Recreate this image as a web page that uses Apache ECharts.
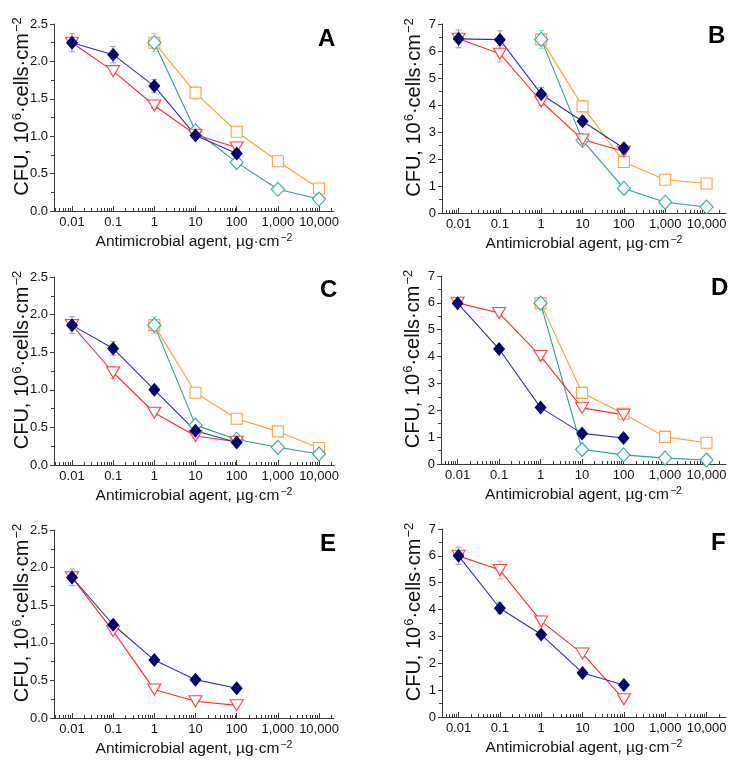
<!DOCTYPE html>
<html><head><meta charset="utf-8">
<script src="https://cdn.jsdelivr.net/npm/echarts@6/dist/echarts.min.js"></script>
<style>html,body{margin:0;padding:0;background:#fff}#c{width:756px;height:768px}</style>
</head><body><div id="c"></div>
<script>
// ---------- data ----------
const xTickValues = [0.01, 0.1, 1, 10, 100, 1000, 10000];
const xTickLabels = ['0.01', '0.1', '1', '10', '100', '1,000', '10,000'];
const lowDoses = [0.01, 0.1, 1, 10, 100];
const highDoses = [1, 10, 100, 1000, 10000];
const panelLetters = ['A', 'B', 'C', 'D', 'E', 'F'];
const yMaxes = [2.5, 7, 2.5, 7, 2.5, 7];
const yIntervals = [0.5, 1, 0.5, 1, 0.5, 1];

// navy filled diamonds (low doses)
const navyA = [2.25, 2.09, 1.67, 1.01, 0.77];
const navyB = [6.45, 6.42, 4.40, 3.40, 2.40];
const navyC = [1.86, 1.55, 1.00, 0.455, 0.30];
const navyD = [5.99, 4.28, 2.10, 1.14, 0.97];
const navyE = [1.87, 1.24, 0.77, 0.51, 0.395];
const navyF = [6.00, 4.05, 3.07, 1.64, 1.19];
const navyErrA = [0.12, 0.11, 0.09, 0.04, 0.05];
const navyErrB = [0.33, 0.33, 0.25, 0.15, 0.10];
const navyErrC = [0.11, 0.09, 0.05, 0.03, 0.03];
const navyErrD = [0.12, 0.10, 0.10, 0.08, 0.06];
const navyErrE = [0.11, 0.06, 0.03, 0.02, 0.02];
const navyErrF = [0.32, 0.20, 0.12, 0.10, 0.10];

// red open down-triangles (low doses)
const redA = [2.25, 1.87, 1.41, 1.02, 0.85];
const redB = [6.45, 5.90, 4.13, 2.72, 2.28];
const redC = [1.86, 1.23, 0.695, 0.385, 0.31];
const redD = [6.00, 5.62, 4.02, 2.09, 1.83];
const redE = [1.87, 1.155, 0.378, 0.222, 0.168];
const redF = [6.00, 5.47, 3.56, 2.36, 0.66];
const redErrA = [0.05, 0.04, 0.04, 0.03, 0.03];
const redErrB = [0.10, 0.30, 0.15, 0.10, 0.10];
const redErrC = [0.04, 0.08, 0.04, 0.03, 0.02];
const redErrD = [0.10, 0.12, 0.15, 0.12, 0.12];
const redErrE = [0.03, 0.04, 0.02, 0.02, 0.02];
const redErrF = [0.10, 0.33, 0.20, 0.12, 0.10];

// teal open diamonds (high doses)
const tealA = [2.25, 1.07, 0.65, 0.29, 0.16];
const tealB = [6.43, 2.69, 0.91, 0.40, 0.22];
const tealC = [1.86, 0.53, 0.34, 0.235, 0.146];
const tealD = [5.99, 0.54, 0.34, 0.22, 0.15];
const tealErrA = [0.12, 0.04, 0.03, 0.02, 0.02];
const tealErrB = [0.33, 0.10, 0.10, 0.08, 0.06];
const tealErrC = [0.11, 0.03, 0.02, 0.02, 0.02];
const tealErrD = [0.12, 0.10, 0.10, 0.10, 0.08];

// orange open squares (high doses)
const orangeA = [2.25, 1.58, 1.06, 0.665, 0.30];
const orangeB = [6.43, 3.95, 1.89, 1.23, 1.09];
const orangeC = [1.86, 0.96, 0.615, 0.447, 0.226];
const orangeD = [5.99, 2.65, 1.87, 1.01, 0.79];
const orangeErrA = [0.05, 0.09, 0.05, 0.02, 0.02];
const orangeErrB = [0.10, 0.20, 0.10, 0.08, 0.08];
const orangeErrC = [0.04, 0.05, 0.03, 0.02, 0.03];
const orangeErrD = [0.10, 0.12, 0.12, 0.10, 0.10];

// ---------- layout & style ----------
const layout = [
  {left: 54, top: 24, width: 280, height: 187, xMinExp: -2.437, xMaxExp: 4.364, letter: [318, 27], yGap: 22},
  {left: 442, top: 24, width: 284, height: 189, xMinExp: -2.40, xMaxExp: 4.47, letter: [708, 24], yGap: 18},
  {left: 54, top: 277, width: 280, height: 188, xMinExp: -2.437, xMaxExp: 4.364, letter: [320, 278], yGap: 22},
  {left: 441, top: 276, width: 285, height: 188, xMinExp: -2.40, xMaxExp: 4.47, letter: [711, 276], yGap: 18},
  {left: 54, top: 530, width: 280, height: 188, xMinExp: -2.437, xMaxExp: 4.364, letter: [320, 532], yGap: 22},
  {left: 442, top: 529, width: 284, height: 188, xMinExp: -2.40, xMaxExp: 4.47, letter: [711, 531], yGap: 18}
];
const FONT = '"Liberation Sans", Arial, sans-serif';
const AXIS_COLOR = '#3a3a3a';
const styles = {
  navy:   {line: '#3030a0', mark: '#000070', err: '#9a9ad0', symbol: 'diamond', size: [12, 14], fill: '#000070'},
  red:    {line: '#ff2a2a', mark: '#ff4040', err: '#ff9a9a', symbol: 'triangle', size: [13, 11], fill: '#ffffff', rotate: 180},
  teal:   {line: '#2a9f9a', mark: '#30a8a4', err: '#90d4d2', symbol: 'diamond', size: [13, 14], fill: '#ffffff'},
  orange: {line: '#ff9f2a', mark: '#ffa040', err: '#ffcf9a', symbol: 'rect', size: [11, 11], fill: '#ffffff'}
};

const panelSeries = [
  [['orange', highDoses, orangeA, orangeErrA], ['teal', highDoses, tealA, tealErrA], ['red', lowDoses, redA, redErrA], ['navy', lowDoses, navyA, navyErrA]],
  [['orange', highDoses, orangeB, orangeErrB], ['teal', highDoses, tealB, tealErrB], ['red', lowDoses, redB, redErrB], ['navy', lowDoses, navyB, navyErrB]],
  [['orange', highDoses, orangeC, orangeErrC], ['teal', highDoses, tealC, tealErrC], ['red', lowDoses, redC, redErrC], ['navy', lowDoses, navyC, navyErrC]],
  [['orange', highDoses, orangeD, orangeErrD], ['teal', highDoses, tealD, tealErrD], ['red', lowDoses, redD, redErrD], ['navy', lowDoses, navyD, navyErrD]],
  [['red', lowDoses, redE, redErrE], ['navy', lowDoses, navyE, navyErrE]],
  [['red', lowDoses, redF, redErrF], ['navy', lowDoses, navyF, navyErrF]]
];

// minor tick positions on the log axis (2..9 within each decade)
const minorTicks = [];
for (let k = -3; k <= 4; k++) for (let m = 2; m <= 9; m++) minorTicks.push(m * Math.pow(10, k));

const option = {
  animation: false,
  backgroundColor: '#ffffff',
  textStyle: {fontFamily: FONT},
  title: [], grid: [], xAxis: [], yAxis: [], series: []
};

layout.forEach((L, i) => {
  const xmin = Math.pow(10, L.xMinExp), xmax = Math.pow(10, L.xMaxExp);
  option.grid.push({left: L.left, top: L.top, width: L.width, height: L.height, containLabel: false});
  option.title.push({
    text: panelLetters[i], left: L.letter[0], top: L.letter[1], padding: 0,
    textStyle: {fontFamily: FONT, fontSize: 24, fontWeight: 'bold', color: '#000'}
  });
  // main log x axis
  option.xAxis.push({
    type: 'log', logBase: 10, gridIndex: i, min: xmin, max: xmax,
    name: '{n|Antimicrobial agent, µg·cm}{s|−2}', nameLocation: 'middle', nameGap: 22,
    nameTextStyle: {rich: {
      n: {fontFamily: FONT, fontSize: 15.5, color: '#111', verticalAlign: 'bottom'},
      s: {fontFamily: FONT, fontSize: 10.5, color: '#111', verticalAlign: 'top', padding: [0, 0, 6, 1]}
    }},
    axisLine: {show: true, onZero: false, lineStyle: {color: AXIS_COLOR, width: 1}},
    axisTick: {show: true, inside: true, length: 5, customValues: xTickValues, lineStyle: {color: AXIS_COLOR}},
    axisLabel: {
      show: true, customValues: xTickValues, margin: 5, fontFamily: FONT, fontSize: 13, color: '#111',
      formatter: v => xTickLabels[xTickValues.findIndex(t => Math.abs(Math.log10(t) - Math.log10(v)) < 1e-6)]
    },
    splitLine: {show: false}, minorTick: {show: false}
  });
  // overlay axis for log minor ticks
  option.xAxis.push({
    type: 'log', logBase: 10, gridIndex: i, min: xmin, max: xmax, position: 'bottom',
    axisLine: {show: false},
    axisTick: {show: true, inside: true, length: 3, customValues: minorTicks.filter(v => v > xmin && v < xmax), lineStyle: {color: AXIS_COLOR}},
    axisLabel: {show: false}, splitLine: {show: false}
  });
  const isB = yMaxes[i] > 3;
  option.yAxis.push({
    type: 'value', gridIndex: i, min: 0, max: yMaxes[i], interval: yIntervals[i],
    name: '{g|}{n|CFU, 10}{s|6}{n|·cells·cm}{s|−2}', nameLocation: 'middle', nameGap: L.yGap,
    nameMoveOverlap: false,
    nameTextStyle: {rich: {
      g: {width: 22, fontSize: 20},
      n: {fontFamily: FONT, fontSize: 20, color: '#111', verticalAlign: 'bottom'},
      s: {fontFamily: FONT, fontSize: 13, color: '#111', verticalAlign: 'top', padding: [0, 0, 8, 1]}
    }},
    axisLine: {show: true, lineStyle: {color: AXIS_COLOR, width: 1}},
    axisTick: {show: true, inside: false, length: 4, lineStyle: {color: AXIS_COLOR}},
    minorTick: {show: true, splitNumber: 2, length: 3, lineStyle: {color: AXIS_COLOR}},
    axisLabel: {margin: 6, fontFamily: FONT, fontSize: 13, color: '#111',
      formatter: v => isB ? String(Math.round(v)) : v.toFixed(1)},
    splitLine: {show: false}
  });

  panelSeries[i].forEach(([key, xs, ys, errs]) => {
    const st = styles[key];
    // error bars
    option.series.push({
      type: 'custom', xAxisIndex: 2 * i, yAxisIndex: i, z: 1, silent: true,
      data: xs.map((x, j) => [x, ys[j], errs[j]]),
      encode: {x: 0, y: 1},
      renderItem: (params, api) => {
        const x = api.value(0), y = api.value(1), e = api.value(2);
        const top = api.coord([x, y + e]), bot = api.coord([x, y - e]);
        const cw = 3;
        const ls = {stroke: st.err, lineWidth: 1};
        return {type: 'group', children: [
          {type: 'line', shape: {x1: top[0], y1: top[1], x2: bot[0], y2: bot[1]}, style: ls},
          {type: 'line', shape: {x1: top[0] - cw, y1: top[1], x2: top[0] + cw, y2: top[1]}, style: ls},
          {type: 'line', shape: {x1: bot[0] - cw, y1: bot[1], x2: bot[0] + cw, y2: bot[1]}, style: ls}
        ]};
      }
    });
    option.series.push({
      type: 'line', xAxisIndex: 2 * i, yAxisIndex: i, z: 2,
      data: xs.map((x, j) => [x, ys[j]]),
      symbol: st.symbol, symbolSize: st.size, symbolRotate: st.rotate || 0, showAllSymbol: true,
      lineStyle: {color: st.line, width: 1.1},
      itemStyle: {color: st.fill, borderColor: st.mark, borderWidth: key === 'navy' ? 0 : 1.1},
      emphasis: {disabled: true}
    });
  });
});

const chart = echarts.init(document.getElementById('c'), null, {renderer: 'canvas'});
chart.setOption(option);
</script>
</body></html>
